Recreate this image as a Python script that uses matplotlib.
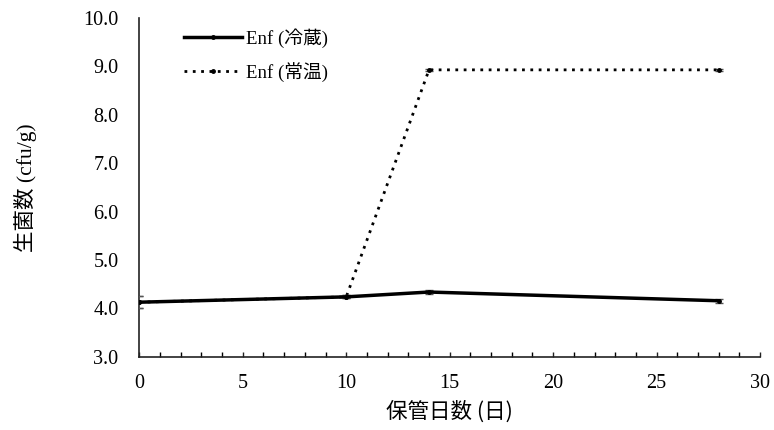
import matplotlib
matplotlib.use("Agg")
import matplotlib.pyplot as plt
from matplotlib.ticker import MultipleLocator
from matplotlib.lines import Line2D

plt.rcParams['font.family'] = ['Liberation Serif', 'Noto Sans CJK JP']

days = [0, 10, 14, 28]
chilled = [4.13, 4.24, 4.34, 4.16]
chilled_err = [0.13, 0.03, 0.04, 0.04]
room = [4.13, 4.24, 8.93, 8.93]
room_err = [0.13, 0.03, 0.02, 0.02]
yticks = [3.0, 4.0, 5.0, 6.0, 7.0, 8.0, 9.0, 10.0]
xticks = [0, 5, 10, 15, 20, 25, 30]

fig = plt.figure(figsize=(7.74, 4.30), dpi=100)
ax = fig.add_axes([0.180, 0.170, 0.802, 0.788])

ax.errorbar(days, chilled, yerr=chilled_err, color='black', lw=2.5,
            marker='o', ms=2.5, ecolor='#555555', elinewidth=1.2, capsize=3,
            zorder=3)
ax.errorbar(days, room, yerr=room_err, color='black', lw=2.0, ls=(0, (1, 2)),
            marker='o', ms=2.5, ecolor='#555555', elinewidth=1.2, capsize=3,
            zorder=2)

ax.set_xlim(0, 30)
ax.set_ylim(3.0, 10.0)
ax.set_xticks(xticks)
ax.xaxis.set_minor_locator(MultipleLocator(1))
ax.set_yticks(yticks)
ax.set_yticklabels([f"{v:.1f}" for v in yticks])
ax.tick_params(axis='both', labelsize=14.5, color='#222222')
ax.tick_params(axis='y', length=0, pad=15)
ax.tick_params(axis='x', which='both', direction='in', length=3.5, width=1, pad=12)
for s in ['top', 'right']:
    ax.spines[s].set_visible(False)
for s in ['left', 'bottom']:
    ax.spines[s].set_color('#222222')
    ax.spines[s].set_linewidth(1.2)

ax.set_xlabel('保管日数 (日)', fontsize=15.5, family=['Noto Sans CJK JP'], labelpad=6)
ax.set_ylabel('生菌数 (cfu/g)', fontsize=15.5, labelpad=33)

handles = [
    Line2D([], [], color='black', lw=2.5, marker='o', ms=2.5),
    Line2D([], [], color='black', lw=2.0, ls=(0, (1, 2)), marker='o', ms=2.5),
]
labels = ['Enf (冷蔵)', 'Enf (常温)']
ax.legend(handles, labels, loc='upper left', bbox_to_anchor=(0.045, 1.02),
          frameon=False, fontsize=13.5, handlelength=3.1, handletextpad=0.2,
          labelspacing=0.75)

fig.savefig('out.png', dpi=100)
